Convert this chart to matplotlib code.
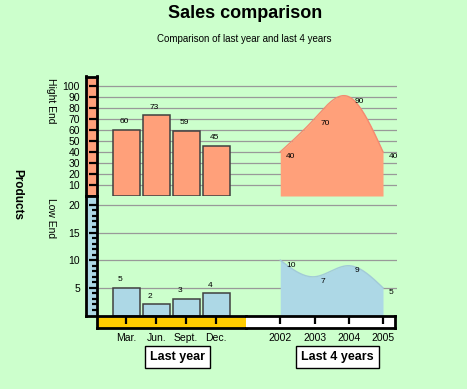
import numpy as np
import matplotlib
matplotlib.use('Agg')
import matplotlib.pyplot as plt

plt.rcParams['font.family'] = ['Liberation Sans', 'DejaVu Sans']

# data
months = ['Mar.', 'Jun.', 'Sept.', 'Dec.']
high_last_year = [60, 73, 59, 45]
low_last_year = [5, 2, 3, 4]
years = [2002, 2003, 2004, 2005]
high_4years = [40, 70, 90, 40]
low_4years = [10, 7, 9, 5]

BG = '#ccffcc'
SALMON = '#ffa07a'
BLUE = '#add8e6'
GOLD = '#ffcc00'

W, H = 467, 389
fig = plt.figure(figsize=(W / 100, H / 100), dpi=100, facecolor=BG)


def add_px(x0, y0, x1, y1):
    # axes placed by pixel box (top-left origin)
    return fig.add_axes([x0 / W, 1 - y1 / H, (x1 - x0) / W, (y1 - y0) / H])


def spline(xs, ys, n=300):
    # natural cubic spline through the points, only for drawing the curve
    x = np.asarray(xs, float)
    y = np.asarray(ys, float)
    h = np.diff(x)
    k = len(x)
    A = np.zeros((k, k))
    r = np.zeros(k)
    A[0, 0] = A[-1, -1] = 1
    for i in range(1, k - 1):
        A[i, i - 1] = h[i - 1]
        A[i, i] = 2 * (h[i - 1] + h[i])
        A[i, i + 1] = h[i]
        r[i] = 6 * ((y[i + 1] - y[i]) / h[i] - (y[i] - y[i - 1]) / h[i - 1])
    M = np.linalg.solve(A, r)
    xx = np.linspace(x[0], x[-1], n)
    i = np.clip(np.searchsorted(x, xx) - 1, 0, k - 2)
    hi = h[i]
    a = x[i + 1] - xx
    b = xx - x[i]
    yy = (M[i] * a ** 3 + M[i + 1] * b ** 3) / (6 * hi) \
        + (y[i] / hi - M[i] * hi / 6) * a + (y[i + 1] / hi - M[i + 1] * hi / 6) * b
    return xx, yy


rows = [
    dict(top=76.5, bot=196, ymax=108.3, bars=high_last_year, area=high_4years,
         color=SALMON, edge='#f58a70', grid=list(range(10, 101, 10)), dx=-1.5),
    dict(top=196, bot=315.5, ymax=21.6, bars=low_last_year, area=low_4years,
         color=BLUE, edge='#a2cad8', grid=[5, 10, 15, 20], dx=-4.5),
]

for row in rows:
    # grid lines across both halves
    g = add_px(96.5, row['top'], 396.5, row['bot'])
    g.set_ylim(0, row['ymax'])
    g.set_yticks(row['grid'])
    g.grid(axis='y', color='#999999', lw=0.9)
    g.set_xticks([])
    g.tick_params(left=False, labelleft=False)
    g.patch.set_visible(False)
    for s in g.spines.values():
        s.set_visible(False)

    # last year bars
    ab = add_px(96.5, row['top'], 246, row['bot'])
    ab.set_xlim(0, 5)
    ab.set_ylim(0, row['ymax'])
    pos = np.arange(1, len(months) + 1)
    ab.bar(pos, row['bars'], width=0.9, color=row['color'], edgecolor='#404040', lw=1.1)
    for p, v in zip(pos, row['bars']):
        ab.annotate(str(v), (p, v), xytext=(row['dx'], 3.5), textcoords='offset points',
                    ha='center', va='bottom', fontsize=6)
    ab.axis('off')

    # last 4 years area
    aa = add_px(246, row['top'], 395, row['bot'])
    aa.set_xlim(2001.0, 2005.35)
    aa.set_ylim(0, row['ymax'])
    xx, yy = spline(years, row['area'])
    aa.fill_between(xx, 0, yy, color=row['color'], lw=0)
    aa.plot(xx, yy, color=row['edge'], lw=1.0)
    for yr, v in zip(years, row['area']):
        aa.annotate(str(v), (yr, v), xytext=(4.3, -3.6), textcoords='offset points',
                    ha='left', va='center', fontsize=6)
    aa.axis('off')

# vertical scale bars
for row, major, minor in [(rows[0], rows[0]['grid'], []),
                          (rows[1], rows[1]['grid'], [i for i in range(1, 20) if i % 5])]:
    av = add_px(85.5, row['top'], 96.5, row['bot'])
    av.set_facecolor(row['color'])
    av.set_ylim(0, row['ymax'])
    av.set_xticks([])
    av.set_yticks(major)
    av.set_yticks(minor, minor=True)
    av.tick_params(axis='y', which='both', left=False, right=True, labelleft=True,
                   labelright=False, direction='in', width=1.6, labelsize=7.5, pad=4)
    av.tick_params(axis='y', which='major', length=6.0)
    av.tick_params(axis='y', which='minor', length=3.4)
    for s in av.spines.values():
        s.set_linewidth(2.0)

# x scale bar
xl = add_px(96.5, 316, 246, 327.5)
xl.set_facecolor(GOLD)
xl.set_xlim(0, 5)
xl.set_xticks(np.arange(1, len(months) + 1))
xl.set_xticklabels(months)
xl.spines['right'].set_visible(False)

xr = add_px(246, 316, 395, 327.5)
xr.set_facecolor('white')
xr.set_xlim(2001.0, 2005.35)
xr.set_xticks(years)
xr.set_xticklabels([str(y) for y in years])
xr.spines['left'].set_visible(False)

for a in (xl, xr):
    a.set_yticks([])
    a.tick_params(axis='x', top=True, bottom=False, labeltop=False, labelbottom=True,
                  direction='in', length=5.8, width=1.6, labelsize=7.5, pad=4)
    for s in a.spines.values():
        s.set_linewidth(2.0)


def ftext(x, y, s, **kw):
    fig.text(x / W, 1 - y / H, s, ha='center', va='center', **kw)


ftext(245.5, 14, 'Sales comparison', fontsize=13, fontweight='bold')
ftext(244, 39.5, 'Comparison of last year and last 4 years', fontsize=7)
ftext(17, 195, 'Products', fontsize=8.5, fontweight='bold', rotation=270)
ftext(51, 100.5, 'Hight End', fontsize=7.5, rotation=270)
ftext(51, 218, 'Low End', fontsize=7.5, rotation=270)

box = dict(boxstyle='square,pad=0.4', facecolor='white', edgecolor='black', lw=1.0)
ftext(177.3, 357.2, 'Last year', fontsize=9, fontweight='bold', bbox=box)
ftext(337.8, 357.2, 'Last 4 years', fontsize=9, fontweight='bold', bbox=box)

fig.savefig('out.png', dpi=100, facecolor=BG)
